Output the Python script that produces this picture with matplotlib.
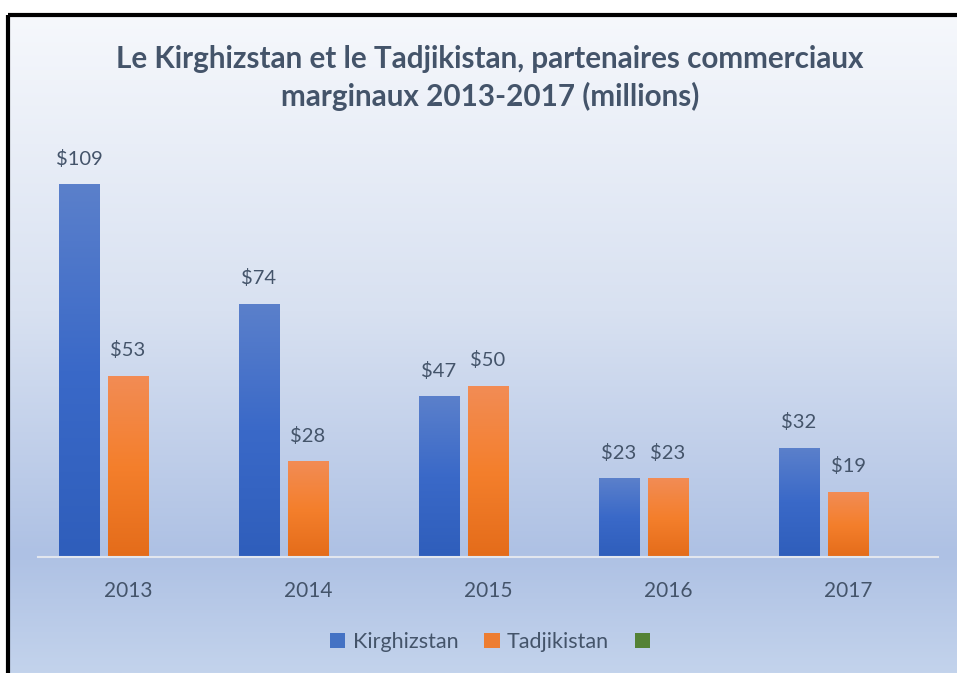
import numpy as np
import matplotlib
matplotlib.use("Agg")
import matplotlib.pyplot as plt
from matplotlib.colors import LinearSegmentedColormap
from matplotlib.patches import Rectangle

years = ["2013", "2014", "2015", "2016", "2017"]
kirghizstan = [109, 74, 47, 23, 32]
tadjikistan = [53, 28, 50, 23, 19]
series_names = ["Kirghizstan", "Tadjikistan", ""]

title = "Le Kirghizstan et le Tadjikistan, partenaires commerciaux\nmarginaux 2013-2017 (millions)"

W, H = 957, 673
fig = plt.figure(figsize=(W / 100, H / 100), dpi=100)
fig.patch.set_facecolor("white")
plt.rcParams['font.family'] = ['Lato', 'DejaVu Sans']

text_col = "#44546A"

# background panel with gradient
bg = fig.add_axes([0, 0, 1, 1])
bg.set_xlim(0, W)
bg.set_ylim(H, 0)
bg.axis("off")
bg_cmap = LinearSegmentedColormap.from_list(
    "bg", [(0.0, "#F6F8FC"), (0.45, "#D8E1F1"), (0.82, "#AEC1E4"), (1.0, "#C3D3EC")])
grad = np.linspace(0, 1, 256).reshape(-1, 1)
panel = Rectangle((8, 15), W, H, facecolor="none", edgecolor="black", lw=3, zorder=3)
bg.add_patch(panel)
im = bg.imshow(grad, cmap=bg_cmap, extent=(8, W, H, 15), aspect="auto", zorder=1)
im.set_clip_path(panel)

fig.text(490 / W, 1 - 78 / H, title, ha="center", va="center", fontsize=21.3,
         fontweight="bold", color=text_col, linespacing=1.4)

# main axes
ax = fig.add_axes([38 / W, 116 / H, 900 / W, 410.4 / H])
ax.patch.set_alpha(0)
ax.set_xlim(-0.5, 4.5)
ax.set_ylim(0, 120)

x = np.arange(len(years))
bw = 41 / 180
step = 49 / 180
empty = [0] * len(years)

blue_cmap = LinearSegmentedColormap.from_list("b", ["#2F5EBB", "#3A69C8", "#5B80CB"])
orange_cmap = LinearSegmentedColormap.from_list("o", ["#E46C1A", "#F47F2C", "#F28C55"])

b1 = ax.bar(x - step, kirghizstan, width=bw, color="#4472C4", label=series_names[0], zorder=2)
b2 = ax.bar(x, tadjikistan, width=bw, color="#ED7D31", label=series_names[1], zorder=2)
b3 = ax.bar(x + step, empty, width=bw, color="#548235", label=" ", zorder=2)

vgrad = np.linspace(0, 1, 256).reshape(-1, 1)
for bars, cm in ((b1, blue_cmap), (b2, orange_cmap)):
    for p in bars:
        x0, w, h = p.get_x(), p.get_width(), p.get_height()
        p.set_facecolor("none")
        p.set_edgecolor("none")
        g = ax.imshow(vgrad, cmap=cm, extent=(x0, x0 + w, 0, h), origin="lower",
                      aspect="auto", zorder=2)
        g.set_clip_path(p)

for bars, vals in ((b1, kirghizstan), (b2, tadjikistan)):
    for p, v in zip(bars, vals):
        ax.annotate(f"${v}", (p.get_x() + p.get_width() / 2, v), xytext=(0, 12),
                    textcoords="offset points", ha="center", va="bottom",
                    fontsize=14.5, color=text_col)

ax.set_xlim(-0.5, 4.5)
ax.set_ylim(0, 120)
ax.set_xticks(x)
ax.set_xticklabels(years, fontsize=15, color=text_col)
ax.tick_params(axis="x", length=0, pad=17)
ax.set_yticks([])
for s in ("top", "right", "left"):
    ax.spines[s].set_visible(False)
ax.spines["bottom"].set_color("#E2E6EE")
ax.spines["bottom"].set_linewidth(1.5)

leg = fig.legend(handles=[b1, b2, b3], labels=["Kirghizstan", "Tadjikistan", ""],
                 loc="center", bbox_to_anchor=(494 / W, 1 - 642 / H), ncol=3,
                 frameon=False, fontsize=15.5, handlelength=0.7, handleheight=0.7,
                 handletextpad=0.35, columnspacing=1.2)
for t in leg.get_texts():
    t.set_color(text_col)
for h, c in zip(leg.legend_handles, ["#4472C4", "#ED7D31", "#548235"]):
    h.set_facecolor(c)

fig.savefig("out.png", dpi=100)
